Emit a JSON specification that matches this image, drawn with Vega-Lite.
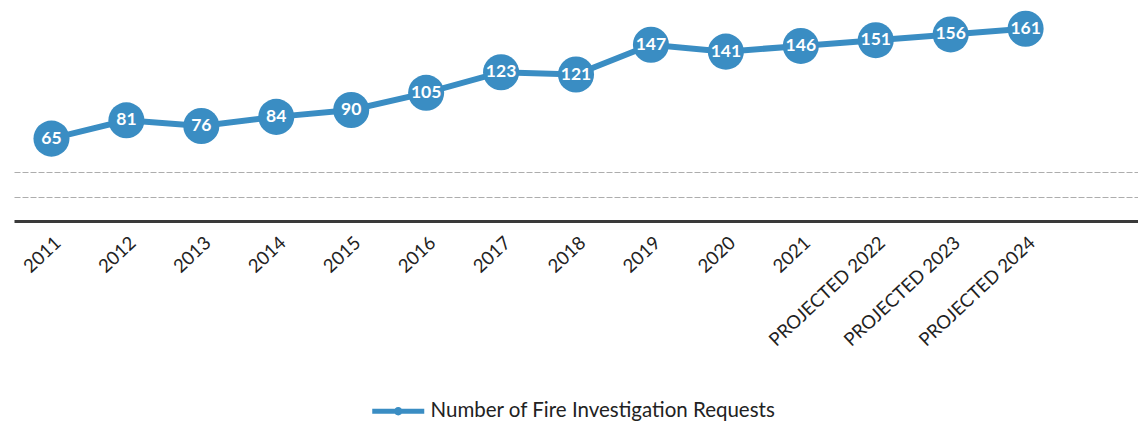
{
  "$schema": "https://vega.github.io/schema/vega-lite/v6.json",
  "width": 1124,
  "height": 214,
  "autosize": {"type": "none"},
  "padding": {"left": 14, "top": 7, "right": 0, "bottom": 207},
  "background": "white",
  "config": {
    "view": {"stroke": null},
    "font": "Lato"
  },
  "data": {
    "values": [
      {"year": "2011", "value": 65, "series": "Number of Fire Investigation Requests"},
      {"year": "2012", "value": 81, "series": "Number of Fire Investigation Requests"},
      {"year": "2013", "value": 76, "series": "Number of Fire Investigation Requests"},
      {"year": "2014", "value": 84, "series": "Number of Fire Investigation Requests"},
      {"year": "2015", "value": 90, "series": "Number of Fire Investigation Requests"},
      {"year": "2016", "value": 105, "series": "Number of Fire Investigation Requests"},
      {"year": "2017", "value": 123, "series": "Number of Fire Investigation Requests"},
      {"year": "2018", "value": 121, "series": "Number of Fire Investigation Requests"},
      {"year": "2019", "value": 147, "series": "Number of Fire Investigation Requests"},
      {"year": "2020", "value": 141, "series": "Number of Fire Investigation Requests"},
      {"year": "2021", "value": 146, "series": "Number of Fire Investigation Requests"},
      {"year": "PROJECTED 2022", "value": 151, "series": "Number of Fire Investigation Requests"},
      {"year": "PROJECTED 2023", "value": 156, "series": "Number of Fire Investigation Requests"},
      {"year": "PROJECTED 2024", "value": 161, "series": "Number of Fire Investigation Requests"}
    ]
  },
  "encoding": {
    "x": {
      "field": "year",
      "type": "nominal",
      "sort": null,
      "scale": {
        "type": "point",
        "padding": 0.5,
        "domain": ["2011","2012","2013","2014","2015","2016","2017","2018","2019","2020","2021","PROJECTED 2022","PROJECTED 2023","PROJECTED 2024","_pad"]
      },
      "axis": {
        "title": null,
        "labelAngle": -43,
        "labelFont": "Lato",
        "labelFontSize": 18.5,
        "labelColor": "#222222",
        "labelPadding": 12,
        "labelExpr": "datum.value == '_pad' ? '' : datum.value",
        "ticks": false,
        "domainColor": "#3a3a3a",
        "domainWidth": 3,
        "grid": false
      }
    },
    "y": {
      "field": "value",
      "type": "quantitative",
      "scale": {"domain": [-7, 180], "nice": false, "zero": false},
      "axis": {
        "title": null,
        "labels": false,
        "ticks": false,
        "domain": false,
        "values": [14, 36],
        "grid": true,
        "gridColor": "#8a8a8a",
        "gridWidth": 1,
        "gridDash": [6, 2],
        "gridOpacity": 0.7
      }
    }
  },
  "layer": [
    {
      "mark": {"type": "line", "strokeWidth": 6},
      "encoding": {
        "color": {
          "field": "series",
          "type": "nominal",
          "scale": {"range": ["#3a8dc3"]},
          "legend": {
            "title": null,
            "orient": "none",
            "legendX": 374,
            "legendY": 394,
            "symbolType": "M-2.6,-0.25L2.6,-0.25L2.6,0.25L-2.6,0.25Z M0.42,0A0.42,0.42 0 1 1 -0.42,0A0.42,0.42 0 1 1 0.42,0Z",
            "symbolSize": 400,
            "symbolFillColor": "#3a8dc3",
            "symbolStrokeWidth": 0,
            "labelFont": "Lato",
            "labelFontSize": 20.5,
            "labelColor": "#222222",
            "labelOffset": 22,
            "labelLimit": 600
          }
        }
      }
    },
    {
      "mark": {"type": "point", "filled": true, "size": 1300, "opacity": 1},
      "encoding": {
        "color": {"field": "series", "type": "nominal"}
      }
    },
    {
      "mark": {"type": "text", "color": "white", "fontWeight": "bold", "fontSize": 17.5, "font": "Lato", "baseline": "middle", "align": "center"},
      "encoding": {
        "text": {"field": "value", "type": "quantitative"}
      }
    }
  ]
}
